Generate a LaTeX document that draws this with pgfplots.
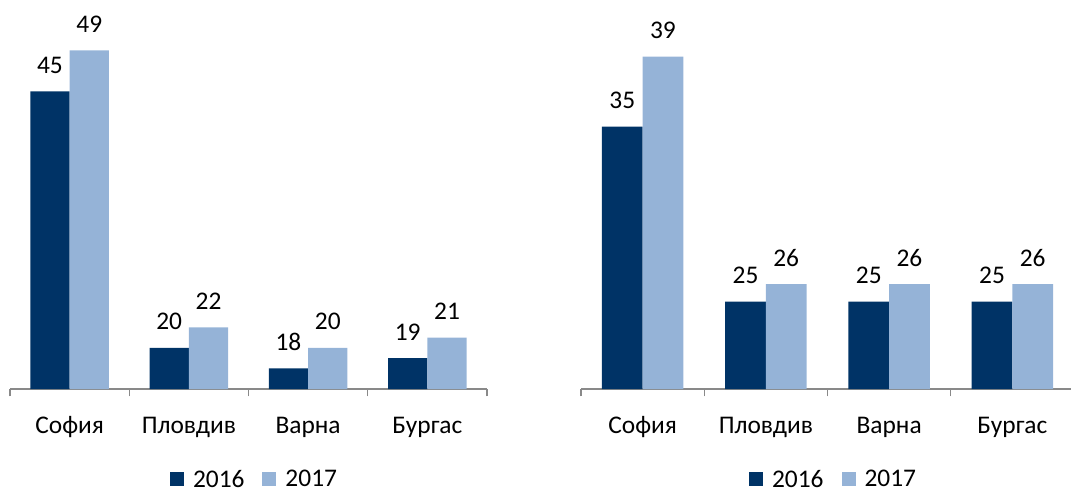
\documentclass[border=0pt]{standalone}
\usepackage{fontspec}
\setmainfont{Carlito}
\usepackage{pgfplots}
\pgfplotsset{compat=1.18}
\definecolor{dark}{RGB}{0,51,102}
\definecolor{light}{RGB}{149,179,215}
\definecolor{axgray}{RGB}{137,137,137}
\newcommand{\lblfont}{\fontsize{12.7}{15}\selectfont}
\pgfplotsset{
  mybars/.style={
    scale only axis, ybar, bar width=0.33,
    xmin=-0.5, xmax=3.5,
    axis x line*=bottom, axis y line=none,
    x axis line style={-, draw=axgray, line width=0.6pt},
    xtick={0,1,2,3}, xticklabels={София,Пловдив,Варна,Бургас},
    major tick length=0pt,
    minor xtick={-0.5,0.5,1.5,2.5,3.5},
    minor tick length=3.7pt, tick align=outside,
    minor tick style={draw=axgray, line width=0.6pt},
    xticklabel style={anchor=base, yshift=-22pt, font=\lblfont, text=black},
    /pgf/number format/assume math mode=true,
    nodes near coords,
    nodes near coords style={anchor=base, yshift=9pt, font=\lblfont, text=black},
    legend columns=2,
    legend style={draw=none, fill=none, at={(0.5,0)}, anchor=center, yshift=-45.5pt, xshift=3.5pt,
      font=\lblfont, /tikz/every even column/.append style={column sep=7pt}},
    legend image code/.code={\fill[##1] (0pt,-3pt) rectangle (7pt,4pt); \path (9.5pt,0pt);},
  }
}
\begin{document}
\begin{tikzpicture}
\path[use as bounding box] (0,0) rectangle (535.5pt,244.5pt);
\begin{axis}[mybars, at={(5pt,50pt)}, anchor=south west, width=238.5pt, height=200.07pt, ymin=16, ymax=55]
\addplot[fill=dark, draw=none, bar shift=-0.165] coordinates {(0,45) (1,20) (2,18) (3,19)};
\addplot[fill=light, draw=none, bar shift=0.165] coordinates {(0,49) (1,22) (2,20) (3,21)};
\legend{2016,2017}
\end{axis}
\begin{axis}[mybars, at={(290.5pt,50pt)}, anchor=south west, width=246.5pt, height=218.75pt, ymin=20, ymax=45]
\addplot[fill=dark, draw=none, bar shift=-0.165] coordinates {(0,35) (1,25) (2,25) (3,25)};
\addplot[fill=light, draw=none, bar shift=0.165] coordinates {(0,39) (1,26) (2,26) (3,26)};
\legend{2016,2017}
\end{axis}
\end{tikzpicture}
\end{document}
